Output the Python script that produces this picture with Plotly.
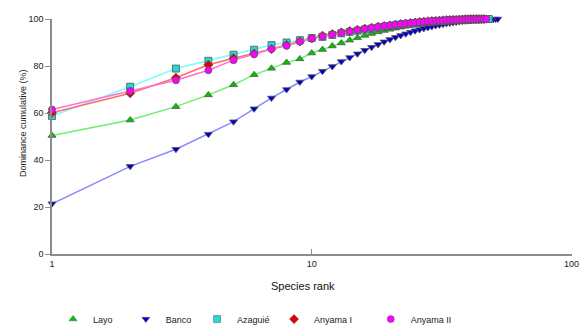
import plotly.graph_objects as go

layo = [50.4, 57, 62.7, 67.7, 72, 76.3, 79, 81.5, 83, 85.5, 87, 88.5, 89.8, 91, 92, 93, 93.8, 94.5,
        95.1, 95.6, 96.1, 96.5, 96.9, 97.3, 97.6, 97.9, 98.2, 98.4, 98.6, 98.8, 99.0, 99.2, 99.3,
        99.4, 99.5, 99.6, 99.7, 99.75, 99.8, 99.85, 99.9, 99.93, 99.95, 99.97, 100]
banco = [21.4, 37.3, 44.6, 51, 56.3, 61.8, 66.4, 70, 73.2, 75.5, 77.8, 79.8, 81.9, 83.6, 85.2, 86.7,
         88, 89.2, 90.3, 91.3, 92.2, 93.0, 93.7, 94.4, 95.0, 95.5, 96.0, 96.4, 96.8, 97.2, 97.5,
         97.8, 98.1, 98.3, 98.5, 98.7, 98.9, 99.05, 99.2, 99.3, 99.4, 99.5, 99.6, 99.65, 99.7,
         99.75, 99.8, 99.85, 99.9, 99.93, 99.96, 100]
azaguie = [58.7, 71.2, 78.9, 82.2, 84.8, 86.9, 88.9, 90, 91, 91.9, 92.4, 93.2, 93.9, 94.5, 95.0,
           95.5, 95.9, 96.3, 96.7, 97.0, 97.3, 97.6, 97.8, 98.0, 98.2, 98.4, 98.6, 98.75, 98.9,
           99.0, 99.1, 99.2, 99.3, 99.4, 99.5, 99.55, 99.6, 99.65, 99.7, 99.75, 99.8, 99.85,
           99.88, 99.91, 99.94, 99.96, 99.98, 100]
anyama1 = [60.1, 68.4, 75, 80.5, 83.3, 85.3, 87.2, 88.9, 90.4, 91.7, 92.9, 93.6, 94.3, 94.9, 95.4,
           95.9, 96.3, 96.7, 97.0, 97.3, 97.6, 97.9, 98.1, 98.3, 98.5, 98.7, 98.85, 99.0, 99.1,
           99.2, 99.3, 99.4, 99.5, 99.6, 99.65, 99.7, 99.75, 99.8, 99.85, 99.9, 99.93, 99.95,
           99.97, 99.98, 99.99, 100]
anyama2 = [61.5, 69.4, 73.9, 78.2, 82.5, 85, 87.2, 88.6, 90.4, 91.7, 92.6, 93.4, 94.1, 94.7, 95.3,
           95.8, 96.2, 96.6, 97.0, 97.3, 97.6, 97.9, 98.1, 98.3, 98.5, 98.7, 98.85, 99.0, 99.1,
           99.2, 99.3, 99.4, 99.5, 99.55, 99.6, 99.65, 99.7, 99.75, 99.8, 99.85, 99.9, 99.92,
           99.94, 99.96, 99.98, 99.99, 100]

x_ticks = [1, 10, 100]
x_ticktext = ["1", "10", "100"]
y_ticks = [0, 20, 40, 60, 80, 100]

series = [
    ("Layo", layo, "triangle-up", "#00c400", "#6cf06c"),
    ("Banco", banco, "triangle-down", "#0000c8", "#8a8aff"),
    ("Azaguié", azaguie, "square", "#22d8d8", "#7ffcfc"),
    ("Anyama I", anyama1, "diamond", "#e00000", "#ff6a6a"),
    ("Anyama II", anyama2, "circle", "#ff00ff", "#ff70d0"),
]
legend_x = [0.002, 0.142, 0.279, 0.427, 0.613]

fig = go.Figure()
for name, vals, sym, mcol, lcol in series:
    ranks = list(range(1, len(vals) + 1))
    fig.add_trace(go.Scatter(
        x=ranks, y=vals, mode="lines+markers", name=name, showlegend=False,
        line=dict(color=lcol, width=1.5),
        marker=dict(symbol=sym, size=7, color=mcol, line=dict(color="#555555", width=0.8)),
        cliponaxis=False,
    ))
leg_layout = {}
for i, (name, vals, sym, mcol, lcol) in enumerate(series):
    lname = "legend" if i == 0 else f"legend{i + 1}"
    fig.add_trace(go.Scatter(
        x=[None], y=[None], mode="markers", name=name, showlegend=True, legend=lname,
        marker=dict(symbol=sym, size=7, color=mcol, line=dict(color="#555555", width=0.5)),
    ))
    leg_layout[lname] = dict(
        orientation="h", x=legend_x[i], xanchor="left", y=-0.277, yanchor="middle",
        font=dict(size=9, color="#222222"), bgcolor="rgba(0,0,0,0)",
    )

fig.update_layout(
    width=579, height=327,
    margin=dict(l=52, r=7, t=19, b=73, autoexpand=False),
    paper_bgcolor="white", plot_bgcolor="white",
    font=dict(family="Liberation Sans, Arial, sans-serif", size=9, color="#222222"),
    xaxis=dict(
        type="log", range=[0, 2.002], tickvals=x_ticks, ticktext=x_ticktext,
        showgrid=False, zeroline=False, showline=True, linecolor="#8c8c8c", linewidth=1.5,
        ticks="inside", ticklen=5, tickcolor="#8c8c8c", ticklabeloverflow="allow",
        tickfont=dict(size=9, color="#222222"),
    ),
    yaxis=dict(
        range=[0, 100], tickvals=y_ticks,
        showgrid=False, zeroline=False, showline=True, linecolor="#8c8c8c", linewidth=1.5,
        ticks="outside", ticklen=5, tickcolor="#8c8c8c",
        tickfont=dict(size=9, color="#222222"),
    ),
    annotations=[
        dict(text="Species rank", xref="paper", yref="paper", x=0.483, y=-0.136,
             showarrow=False, font=dict(size=11, color="#111111"), xanchor="center", yanchor="middle"),
        dict(text="Dominance cumulative (%)", xref="paper", yref="paper", x=-0.056, y=0.557,
             textangle=-90, showarrow=False, font=dict(size=9, color="#222222"),
             xanchor="center", yanchor="middle"),
    ],
    **leg_layout,
)

fig.write_html(
    "out.html",
    config={"displayModeBar": False},
    post_script="document.body.style.margin='0';document.body.style.overflow='hidden';",
)
